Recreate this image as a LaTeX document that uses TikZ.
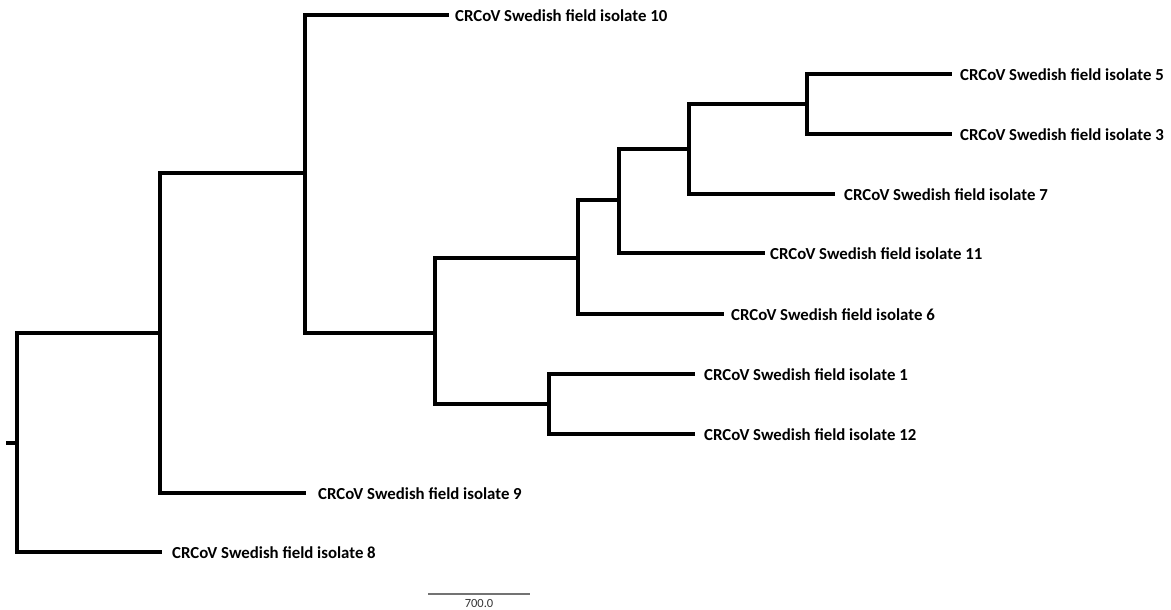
\documentclass[tikz,border=0pt]{standalone}
\usepackage{fontspec}
\setmainfont{Carlito}
\begin{document}
\begin{tikzpicture}[x=1pt,y=-1pt,
  branch/.style={line width=3.6pt,line cap=rect,line join=miter,black},
  leaf/.style={anchor=west,inner sep=0pt,font=\fontsize{16.8}{19}\selectfont\bfseries},
  scalebar/.style={line width=1.6pt,gray!90!black},
  scalelabel/.style={anchor=north,inner sep=0pt,font=\fontsize{12.5}{14}\selectfont,text=black!80}]
\useasboundingbox (0,0) rectangle (1171,610);
% internal nodes
\coordinate (stub) at (8,443);
\coordinate (R) at (17,443);
\coordinate (A) at (160,333);
\coordinate (B) at (305,173);
\coordinate (C) at (435,333);
\coordinate (D) at (578,258);
\coordinate (E) at (549,404);
\coordinate (F) at (619,200);
\coordinate (G) at (689,149);
\coordinate (H) at (807,104);
% tips
\coordinate (t10) at (447,15);
\coordinate (t5) at (950,74);
\coordinate (t3) at (950,134);
\coordinate (t7) at (833,194);
\coordinate (t11) at (763,253);
\coordinate (t6) at (722,314);
\coordinate (t1) at (693,374);
\coordinate (t12) at (693,434);
\coordinate (t9) at (304,493);
\coordinate (t8) at (160,552);
% labels
\node[leaf] (l10) at (455,16) {CRCoV Swedish field isolate 10};
\node[leaf] (l5) at (960,75) {CRCoV Swedish field isolate 5};
\node[leaf] (l3) at (960,135) {CRCoV Swedish field isolate 3};
\node[leaf] (l7) at (844,195) {CRCoV Swedish field isolate 7};
\node[leaf] (l11) at (770,254) {CRCoV Swedish field isolate 11};
\node[leaf] (l6) at (731,315) {CRCoV Swedish field isolate 6};
\node[leaf] (l1) at (704,375) {CRCoV Swedish field isolate 1};
\node[leaf] (l12) at (704,435) {CRCoV Swedish field isolate 12};
\node[leaf] (l9) at (318,494) {CRCoV Swedish field isolate 9};
\node[leaf] (l8) at (172,553) {CRCoV Swedish field isolate 8};
% branches
\draw[branch] (stub) -- (R);
\draw[branch] (R) |- (A);
\draw[branch] (R) |- (t8);
\draw[branch] (A) |- (B);
\draw[branch] (A) |- (t9);
\draw[branch] (B) |- (t10);
\draw[branch] (B) |- (C);
\draw[branch] (C) |- (D);
\draw[branch] (C) |- (E);
\draw[branch] (E) |- (t1);
\draw[branch] (E) |- (t12);
\draw[branch] (D) |- (F);
\draw[branch] (D) |- (t6);
\draw[branch] (F) |- (G);
\draw[branch] (F) |- (t11);
\draw[branch] (G) |- (H);
\draw[branch] (G) |- (t7);
\draw[branch] (H) |- (t5);
\draw[branch] (H) |- (t3);
% scale bar
\coordinate (sb1) at (428,594);
\coordinate (sb2) at (530,594);
\draw[scalebar] (sb1) -- (sb2);
\node[scalelabel] (sbl) at (479,599.5) {700.0};
\end{tikzpicture}
\end{document}
